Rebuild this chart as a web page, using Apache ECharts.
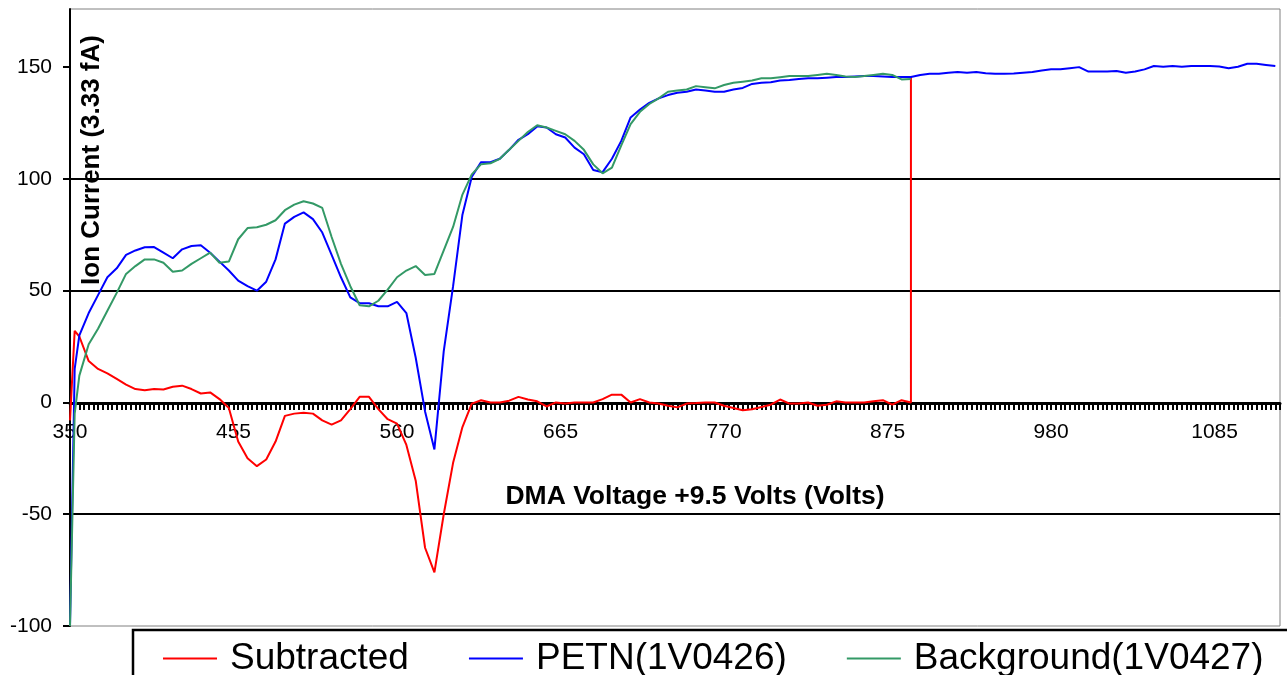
<!DOCTYPE html>
<html>
<head>
<meta charset="utf-8">
<script src="https://cdn.jsdelivr.net/npm/echarts@6/dist/echarts.min.js"></script>
<style>
html,body{margin:0;padding:0;background:#fff}
#chart{width:1287px;height:675px}
</style>
</head>
<body>
<div id="chart"></div>
<script>
// DMA voltage of each sample (890 appears twice: the step where the background run stops)
const voltage = [
  350,353,356,362,368,374,380,386,392,398,
  404,410,416,422,428,434,440,446,452,458,
  464,470,476,482,488,494,500,506,512,518,
  524,530,536,542,548,554,560,566,572,578,
  584,590,596,602,608,614,620,626,632,638,
  644,650,656,662,668,674,680,686,692,698,
  704,710,716,722,728,734,740,746,752,758,
  764,770,776,782,788,794,800,806,812,818,
  824,830,836,842,848,854,860,866,872,878,
  884,890,890,896,902,908,914,920,926,932,
  938,944,950,956,962,968,974,980,986,992,
  998,1004,1010,1016,1022,1028,1034,1040,1046,1052,
  1058,1064,1070,1076,1082,1088,1094,1100,1106,1112,
  1118,1124
];

const subtracted = [
  -8,32,29.5,18.5,15,13,10.5,8,6,5.5,
  6,5.8,7,7.5,6,4,4.5,1.5,-2.5,-17.5,
  -25,-28.5,-25.5,-17.5,-6,-5,-4.6,-5,-8,-9.9,
  -8,-3,2.5,2.5,-3,-7.5,-9.5,-19,-35,-65,
  -76,-50,-27,-11,-0.5,1,0,0,0.8,2.5,
  1.3,0.5,-1.8,0,-0.5,0,0,0,1.5,3.5,
  3.5,0,1.5,0,-0.5,-1.5,-2.2,-0.5,-0.3,0,
  0,-1.5,-2.5,-3.5,-3,-2,-1,1.3,-0.5,-0.5,
  0,-1.5,-1,0.5,0,0,0,0.5,1,-1,
  1,0,145.6,null,null,null,null,null,null,null,
  null,null,null,null,null,null,null,null,null,null,
  null,null,null,null,null,null,null,null,null,null,
  null,null,null,null,null,null,null,null,null,null,
  null,null
];

const petn = [
  -100,15,30,40,48,56,60,66,68,69.4,
  69.5,67,64.5,68.5,70,70.3,67,63,59,54.5,
  52,50,54,64,80,83,85,82,76,66,
  56,47,44.4,44.4,43,43,45,40,20,-4,
  -21,23,52,84,101,107.5,107.5,109,113,117.5,
  120,123.5,123,120,118.5,114,111,104,103,109,
  117,127.5,131,134,136,137.5,138.5,139,140,139.5,
  139,139,140,140.7,142.5,143,143.2,144,144.2,144.7,
  145,145,145.3,145.6,145.6,145.8,146,146,145.8,145.6,
  145.6,145.6,145.6,146.5,147,147,147.5,147.8,147.5,147.8,
  147.3,147,147,147.2,147.5,147.8,148.5,149,149,149.5,
  150,148,148,148,148.3,147.5,148,149,150.5,150.2,
  150.5,150.2,150.5,150.5,150.5,150.3,149.5,150.2,151.5,151.5,
  151,150.5
];

const background = [
  -100,-5,12,26,33,41,49,57.5,61,64,
  64,62.5,58.5,59,62,64.5,67,62.5,63,73,
  78,78.4,79.5,81.5,86,88.5,90,89,87,74,
  62,52,43.5,43,45.5,50.5,56,59,61,57,
  57.5,68,78.5,93,102,106.6,107,109,113,117,
  121,124,123,121.5,120,117,113,106.5,102.5,105,
  115,124.5,130,133.5,136,139,139.5,140,141.5,141,
  140.5,142,143,143.5,144,145,145,145.5,146,146,
  146,146.5,147,146.5,145.8,145.6,146,146.5,147,146.5,
  144.5,144.7,null,null,null,null,null,null,null,null,
  null,null,null,null,null,null,null,null,null,null,
  null,null,null,null,null,null,null,null,null,null,
  null,null,null,null,null,null,null,null,null,null,
  null,null
];

const seriesNames = ['Subtracted', 'PETN(1V0426)', 'Background(1V0427)'];
const seriesColors = ['#ff0000', '#0000ff', '#339966'];
const yTicks = [-100, -50, 0, 50, 100, 150];

// category axis like the excel original: one category every 3 volts
const categories = [];
for (let v = 350; v <= 1127; v += 3) categories.push(String(v));

const font = "'Liberation Sans', Arial, sans-serif";

function pairs(vals) {
  const out = [];
  voltage.forEach((v, i) => {
    if (vals[i] !== null) out.push([String(v), vals[i]]);
  });
  return out;
}

const chart = echarts.init(document.getElementById('chart'));

chart.setOption({
  animation: false,
  backgroundColor: '#fff',
  grid: {
    left: 70, right: 7, top: 9, bottom: 49,
    show: true, borderColor: '#808080', borderWidth: 1
  },
  xAxis: {
    type: 'category',
    data: categories,
    boundaryGap: false,
    position: 'bottom',
    offset: -223,   // axis sits on the zero line
    axisLine: { onZero: false, lineStyle: { color: '#000', width: 3 } },
    axisTick: { show: true, interval: 0, length: 7, lineStyle: { color: '#000', width: 2 } },
    axisLabel: { interval: 34, color: '#000', fontSize: 21, fontFamily: font, margin: 19 },
    splitLine: { show: false }
  },
  yAxis: {
    type: 'value',
    min: -100,
    max: 176,
    interval: 50,
    axisLine: { show: true, lineStyle: { color: '#000', width: 2 } },
    axisTick: { show: true, length: 7, customValues: yTicks, lineStyle: { color: '#000', width: 2 } },
    axisLabel: { color: '#000', fontSize: 21, fontFamily: font, margin: 18, customValues: yTicks },
    splitLine: { show: true, showMinLine: false, showMaxLine: false, lineStyle: { color: '#000', width: 2 } }
  },
  legend: {
    left: 163,
    top: 640,
    padding: 0,
    icon: 'rect',
    itemWidth: 54,
    itemHeight: 2,
    itemGap: 60,
    data: seriesNames,
    textStyle: { fontSize: 37, fontFamily: font, color: '#000', padding: [0, 0, 0, 8] }
  },
  graphic: [
    {
      type: 'rect', z: 0,
      shape: { x: 133, y: 630, width: 1200, height: 100 },
      style: { fill: '#fff', stroke: '#000', lineWidth: 2.5 }
    },
    {
      type: 'text', x: 92, y: 160, rotation: Math.PI / 2,
      style: {
        text: 'Ion Current (3.33 fA)', fontSize: 26, fontWeight: 'bold',
        fontFamily: font, fill: '#000', align: 'center', verticalAlign: 'middle'
      }
    },
    {
      type: 'text', x: 695, y: 497,
      style: {
        text: 'DMA Voltage +9.5 Volts (Volts)', fontSize: 26.5, fontWeight: 'bold',
        fontFamily: font, fill: '#000', align: 'center', verticalAlign: 'middle'
      }
    }
  ],
  series: [
    { name: seriesNames[0], type: 'line', symbol: 'none', data: pairs(subtracted),
      color: seriesColors[0], lineStyle: { width: 2 } },
    { name: seriesNames[1], type: 'line', symbol: 'none', data: pairs(petn),
      color: seriesColors[1], lineStyle: { width: 2 } },
    { name: seriesNames[2], type: 'line', symbol: 'none', data: pairs(background),
      color: seriesColors[2], lineStyle: { width: 2 } }
  ]
});
</script>
</body>
</html>
